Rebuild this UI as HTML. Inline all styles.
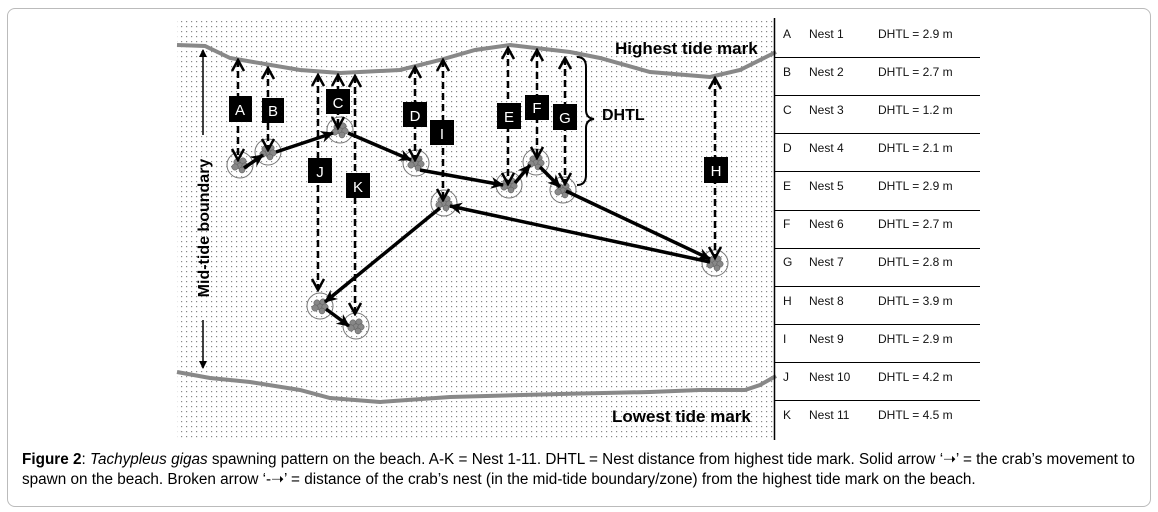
<!DOCTYPE html>
<html><head><meta charset="utf-8"><style>
html,body{margin:0;padding:0;background:#fff;width:1158px;height:512px;overflow:hidden;}
.frame{position:absolute;left:7px;top:8px;width:1142px;height:497px;border:1px solid #bbb;border-radius:8px;}
.cap{position:absolute;left:22px;top:450px;width:1125px;font:15.3px/20px "Liberation Sans",sans-serif;color:#000;white-space:nowrap;}
</style></head><body>
<div class="frame"></div>
<svg width="1158" height="512" style="position:absolute;left:0;top:0" font-family="Liberation Sans, sans-serif">
<defs>
<pattern id="dots" width="5" height="5" patternUnits="userSpaceOnUse"><rect x="1" y="1" width="1.2" height="1.2" fill="#888"/></pattern>
<marker id="ah" markerWidth="8" markerHeight="8" refX="7" refY="4" orient="auto" markerUnits="userSpaceOnUse" viewBox="0 0 8 8"><path d="M0,0 L8,4 L0,8 Z" fill="#000"/></marker>
<marker id="ahs" markerWidth="14" markerHeight="14" refX="12" refY="7" orient="auto" markerUnits="userSpaceOnUse"><path d="M0,1 L13,7 L0,13 L4,7 Z" fill="#000"/></marker>
<marker id="ahd" markerWidth="14" markerHeight="14" refX="12" refY="7" orient="auto-start-reverse" markerUnits="userSpaceOnUse"><path d="M1,1 L12,7 L1,13" fill="none" stroke="#000" stroke-width="2.5"/></marker>
<g id="nest"><circle r="13" fill="none" stroke="#777" stroke-width="1"/><g fill="#888" stroke="#555" stroke-width="0.5"><circle cx="-3" cy="-3" r="3.2"/><circle cx="3" cy="-4" r="3.2"/><circle cx="0" cy="1" r="3.2"/><circle cx="5" cy="1" r="3.2"/><circle cx="-5" cy="2" r="3.2"/><circle cx="2" cy="5" r="3"/></g></g>
</defs>
<rect x="177" y="18" width="597" height="422" fill="url(#dots)"/>
<polyline points="177,45 205,46 230,58 300,70 340,73 400,70 440,60 475,50 510,45 570,52 600,58 650,72 710,77 740,70 770,55 776,52" fill="none" stroke="#888" stroke-width="4"/>
<polyline points="177,372 210,378 250,382 300,390 330,398 380,402 450,397 560,394 650,392 700,390 745,390 760,385 776,376" fill="none" stroke="#888" stroke-width="4"/>
<g stroke="#000" stroke-width="1.5"><line x1="203" y1="135" x2="203" y2="50" marker-end="url(#ah)"/><line x1="203" y1="320" x2="203" y2="368" marker-end="url(#ah)"/></g>
<text x="0" y="0" transform="translate(209,228) rotate(-90)" text-anchor="middle" font-size="16" font-weight="bold">Mid-tide boundary</text>
<text x="615" y="54" font-size="17" font-weight="bold">Highest tide mark</text>
<text x="612" y="422" font-size="17" font-weight="bold">Lowest tide mark</text>
<path d="M577,57 Q586,57 586,67 L586,110 Q586,118 594,119 Q586,120 586,128 L586,175 Q586,185 577,185" fill="none" stroke="#000" stroke-width="2"/>
<text x="602" y="120" font-size="16" font-weight="bold">DHTL</text>
<use href="#nest" x="240" y="165"/><use href="#nest" x="268" y="152"/><use href="#nest" x="340" y="130"/><use href="#nest" x="416" y="163"/><use href="#nest" x="509" y="185"/><use href="#nest" x="536" y="162"/><use href="#nest" x="563" y="190"/><use href="#nest" x="715" y="263"/><use href="#nest" x="444" y="203"/><use href="#nest" x="320" y="306"/><use href="#nest" x="356" y="326"/>
<g stroke="#000" stroke-width="2.5" stroke-dasharray="7,4" fill="none">
<line x1="238" y1="60" x2="238" y2="160" marker-start="url(#ahd)" marker-end="url(#ahd)"/>
<line x1="268" y1="68" x2="268" y2="150" marker-start="url(#ahd)" marker-end="url(#ahd)"/>
<line x1="338" y1="75" x2="338" y2="128" marker-start="url(#ahd)" marker-end="url(#ahd)"/>
<line x1="415" y1="67" x2="415" y2="160" marker-start="url(#ahd)" marker-end="url(#ahd)"/>
<line x1="508" y1="48" x2="508" y2="184" marker-start="url(#ahd)" marker-end="url(#ahd)"/>
<line x1="537" y1="50" x2="537" y2="158" marker-start="url(#ahd)" marker-end="url(#ahd)"/>
<line x1="565" y1="58" x2="565" y2="184" marker-start="url(#ahd)" marker-end="url(#ahd)"/>
<line x1="715" y1="78" x2="715" y2="258" marker-start="url(#ahd)" marker-end="url(#ahd)"/>
<line x1="443" y1="60" x2="443" y2="200" marker-start="url(#ahd)" marker-end="url(#ahd)"/>
<line x1="318" y1="75" x2="318" y2="290" marker-start="url(#ahd)" marker-end="url(#ahd)"/>
<line x1="355" y1="76" x2="355" y2="314" marker-start="url(#ahd)" marker-end="url(#ahd)"/>
</g>
<g stroke="#000" stroke-width="3.5" fill="none">
<line x1="244" y1="168" x2="263" y2="155" marker-end="url(#ahs)"/>
<line x1="276" y1="152" x2="333" y2="133" marker-end="url(#ahs)"/>
<line x1="348" y1="133" x2="411" y2="160" marker-end="url(#ahs)"/>
<line x1="420" y1="170" x2="503" y2="185" marker-end="url(#ahs)"/>
<line x1="515" y1="183" x2="530" y2="165" marker-end="url(#ahs)"/>
<line x1="540" y1="167" x2="560" y2="187" marker-end="url(#ahs)"/>
<line x1="566" y1="191" x2="710" y2="259" marker-end="url(#ahs)"/>
<line x1="710" y1="262" x2="450" y2="206" marker-end="url(#ahs)"/>
<line x1="440" y1="208" x2="325" y2="302" marker-end="url(#ahs)"/>
<line x1="326" y1="309" x2="349" y2="326" marker-end="url(#ahs)"/>
</g>
<g font-size="15" text-anchor="middle">
<rect x="229" y="96" width="23" height="26"/><text x="240" y="115" fill="#fff">A</text>
<rect x="262" y="98" width="22" height="25"/><text x="273" y="116" fill="#fff">B</text>
<rect x="326" y="89" width="24" height="25"/><text x="338" y="108" fill="#fff">C</text>
<rect x="403" y="102" width="24" height="25"/><text x="415" y="121" fill="#fff">D</text>
<rect x="497" y="103" width="24" height="26"/><text x="509" y="122" fill="#fff">E</text>
<rect x="525" y="95" width="24" height="25"/><text x="537" y="113" fill="#fff">F</text>
<rect x="553" y="104" width="24" height="26"/><text x="565" y="123" fill="#fff">G</text>
<rect x="704" y="157" width="24" height="26"/><text x="716" y="176" fill="#fff">H</text>
<rect x="430" y="120" width="24" height="25"/><text x="442" y="139" fill="#fff">I</text>
<rect x="308" y="158" width="24" height="25"/><text x="320" y="177" fill="#fff">J</text>
<rect x="346" y="173" width="24" height="25"/><text x="358" y="192" fill="#fff">K</text>
</g>
<line x1="774.5" y1="18" x2="774.5" y2="440" stroke="#000" stroke-width="1.5"/>
<g stroke="#000" stroke-width="1">
<line x1="775" y1="57.5" x2="980" y2="57.5"/><line x1="775" y1="95.5" x2="980" y2="95.5"/><line x1="775" y1="133.5" x2="980" y2="133.5"/><line x1="775" y1="171.5" x2="980" y2="171.5"/><line x1="775" y1="210.5" x2="980" y2="210.5"/><line x1="775" y1="248.5" x2="980" y2="248.5"/><line x1="775" y1="286.5" x2="980" y2="286.5"/><line x1="775" y1="324.5" x2="980" y2="324.5"/><line x1="775" y1="362.5" x2="980" y2="362.5"/><line x1="775" y1="400.5" x2="980" y2="400.5"/>
</g>
<g font-size="12" fill="#111">
<text x="783" y="38">A</text><text x="809" y="38">Nest 1</text><text x="878" y="38">DHTL = 2.9 m</text>
<text x="783" y="76">B</text><text x="809" y="76">Nest 2</text><text x="878" y="76">DHTL = 2.7 m</text>
<text x="783" y="114">C</text><text x="809" y="114">Nest 3</text><text x="878" y="114">DHTL = 1.2 m</text>
<text x="783" y="152">D</text><text x="809" y="152">Nest 4</text><text x="878" y="152">DHTL = 2.1 m</text>
<text x="783" y="190">E</text><text x="809" y="190">Nest 5</text><text x="878" y="190">DHTL = 2.9 m</text>
<text x="783" y="228">F</text><text x="809" y="228">Nest 6</text><text x="878" y="228">DHTL = 2.7 m</text>
<text x="783" y="266">G</text><text x="809" y="266">Nest 7</text><text x="878" y="266">DHTL = 2.8 m</text>
<text x="783" y="305">H</text><text x="809" y="305">Nest 8</text><text x="878" y="305">DHTL = 3.9 m</text>
<text x="783" y="343">I</text><text x="809" y="343">Nest 9</text><text x="878" y="343">DHTL = 2.9 m</text>
<text x="783" y="381">J</text><text x="809" y="381">Nest 10</text><text x="878" y="381">DHTL = 4.2 m</text>
<text x="783" y="419">K</text><text x="809" y="419">Nest 11</text><text x="878" y="419">DHTL = 4.5 m</text>
</g>
</svg>
<div class="cap"><b>Figure 2</b>: <i>Tachypleus gigas</i> spawning pattern on the beach. A-K = Nest 1-11. DHTL = Nest distance from highest tide mark. Solid arrow ‘➝’ = the crab’s movement to<br>spawn on the beach. Broken arrow ‘-➝’ = distance of the crab’s nest (in the mid-tide boundary/zone) from the highest tide mark on the beach.</div>
</body></html>
